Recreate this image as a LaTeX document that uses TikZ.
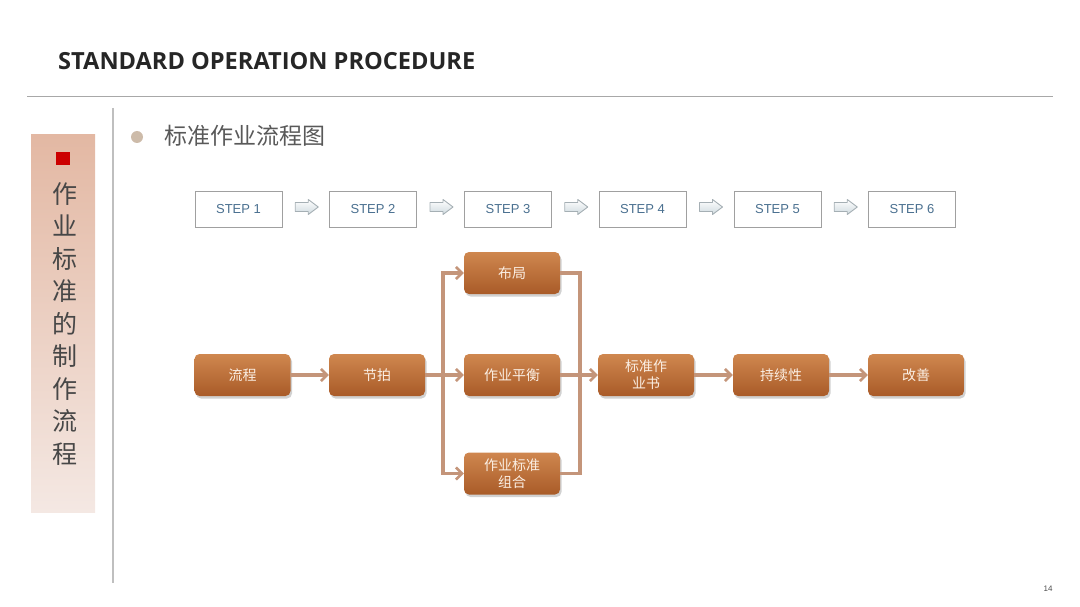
\documentclass[tikz,border=0pt]{standalone}
\usepackage{fontspec}
\setmainfont{Liberation Sans}
\newfontfamily\titlefont{Open Sans}
\newfontfamily\cjk{Noto Sans CJK SC}
\usetikzlibrary{arrows.meta,positioning,calc,shadows}
\definecolor{rulegray}{HTML}{A8A8A8}
\definecolor{stepborder}{HTML}{A0A0A0}
\definecolor{steptext}{HTML}{4A7090}
\definecolor{boxtop}{HTML}{CF874F}
\definecolor{boxbot}{HTML}{A95B28}
\definecolor{boxtext}{HTML}{FBEFE4}
\definecolor{conn}{HTML}{C4957A}
\definecolor{paneltop}{HTML}{E3B8A3}
\definecolor{panelbot}{HTML}{F4E8E3}
\definecolor{bulletc}{HTML}{CDBBA9}
\definecolor{arrowfill}{HTML}{CFDADF}
\definecolor{arrowline}{HTML}{A5AFB4}
\tikzset{
  stepbox/.style={draw=stepborder, line width=0.9pt, fill=white, minimum width=87pt, minimum height=36pt, inner sep=0pt, font=\fontsize{13}{13}\selectfont, text=steptext},
  procbox/.style={rounded corners=5pt, top color=boxtop, bottom color=boxbot, minimum width=96pt, minimum height=42pt, inner sep=0pt, align=center, font=\cjk\fontsize{14}{17}\selectfont, text=boxtext, drop shadow={shadow xshift=1.5pt, shadow yshift=-2.5pt, opacity=0.3, fill=black!60}},
  conn/.style={draw=conn, line width=3.2pt, -{Straight Barb[length=6pt,width=12pt,line width=2.6pt]}},
  connplain/.style={draw=conn, line width=3.2pt},
  blockarrow/.style={draw=arrowline, line width=0.9pt, top color=white, bottom color=arrowfill, line join=round}
}
\begin{document}
\begin{tikzpicture}[x=1pt,y=-1pt]
\useasboundingbox (0,0) rectangle (1080,607);
% title
\node[anchor=west, font=\titlefont\bfseries\fontsize{23.6}{23.6}\selectfont, text=black!85, inner sep=0pt] (title) at (58,61) {STANDARD OPERATION PROCEDURE};
\draw[rulegray, line width=0.9pt] (27,96) -- (1053,96);
\draw[black!25, line width=1.6pt] (113,108) -- (113,583);
% left panel
\shade[top color=paneltop, bottom color=panelbot] (31,135) rectangle (95,512);
\fill[red!80!black] (56,152) rectangle (70,165);
\node[font=\cjk\fontsize{25}{32.5}\selectfont, text=black!72, align=center, inner sep=0pt, anchor=north] (side) at (65,182) {作\\业\\标\\准\\的\\制\\作\\流\\程};
% bullet
\fill[bulletc] (137,137) circle (6pt);
\node[anchor=west, font=\cjk\fontsize{23}{23}\selectfont, text=black!65, inner sep=0pt] (sub) at (164,136) {标准作业流程图};
% steps
\foreach \i/\x in {1/238.5,2/373,3/508,4/642.5,5/777.5,6/912}{
  \node[stepbox] (s\i) at (\x,209) {STEP \i};
}
\foreach \a/\b in {1/2,2/3,3/4,4/5,5/6}{
  \coordinate (ba\a) at ($(s\a.east)!0.5!(s\b.west)+(1,-2)$);
  \path[blockarrow] (ba\a) ++(-11.5,-4.5) -- ++(13,0) -- ++(0,-3) -- ++(10,7.5) -- ++(-10,7.5) -- ++(0,-3) -- ++(-13,0) -- cycle;
}
% process boxes
\node[procbox] (n1) at (242.5,375) {流程};
\node[procbox] (n2) at (377,375) {节拍};
\node[procbox] (n3) at (512,273) {布局};
\node[procbox] (n4) at (512,375) {作业平衡};
\node[procbox] (n5) at (512,473.5) {作业标准\\组合};
\node[procbox] (n6) at (646,375) {标准作\\业书};
\node[procbox] (n7) at (781,375) {持续性};
\node[procbox] (n8) at (916,375) {改善};
\coordinate (split) at (443,375);
\coordinate (merge) at (580,375);
\draw[conn] (n1) -- (n2);
\draw[connplain] (n2) -- (split);
\draw[conn] (split) |- (n3.west);
\draw[conn] (split) -- (n4);
\draw[conn] (split) |- (n5.west);
\draw[connplain] (n3.east) -| (merge);
\draw[connplain] (n5.east) -| (merge);
\draw[connplain] (n4) -- (merge);
\draw[conn] (merge) -- (n6);
\draw[conn] (n6) -- (n7);
\draw[conn] (n7) -- (n8);
% page number
\node[font=\fontsize{8}{8}\selectfont, text=black!70] (pg) at (1048,589) {14};
\end{tikzpicture}
\end{document}
